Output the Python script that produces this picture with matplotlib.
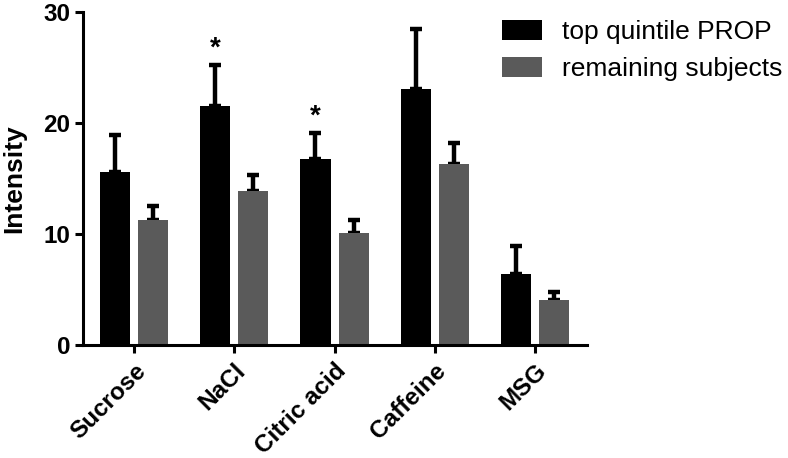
import matplotlib
matplotlib.use("Agg")
import matplotlib.pyplot as plt
import numpy as np

plt.rcParams['font.family'] = ['Liberation Sans', 'DejaVu Sans']

categories = ["Sucrose", "NaCl", "Citric acid", "Caffeine", "MSG"]
top_quintile = [15.6, 21.5, 16.7, 23.0, 6.4]
top_quintile_err = [3.3, 3.7, 2.4, 5.4, 2.5]
remaining = [11.25, 13.9, 10.05, 16.3, 4.05]
remaining_err = [1.25, 1.4, 1.2, 1.9, 0.75]
significant = [False, True, True, False, False]
yticks = [0, 10, 20, 30]

fig = plt.figure(figsize=(7.88, 4.58), dpi=100)
ax = fig.add_axes([0.1053, 0.2467, 0.6397, 0.7278])

x = np.arange(len(categories))
w = 0.30
off = 0.19
c1 = "#000000"
c2 = "#5a5a5a"

ax.bar(x - off, top_quintile, w, color=c1, label="top quintile PROP", zorder=2)
ax.bar(x + off, remaining, w, color=c2, label="remaining subjects", zorder=2)
ax.errorbar(x - off, top_quintile, yerr=[np.zeros(len(x)), top_quintile_err],
            fmt="none", ecolor=c1, elinewidth=3.2, capsize=4, capthick=3.2, zorder=1)
ax.errorbar(x + off, remaining, yerr=[np.zeros(len(x)), remaining_err],
            fmt="none", ecolor="#000000", elinewidth=3.2, capsize=4, capthick=3.2, zorder=1)

for i, s in enumerate(significant):
    if s:
        ax.text(x[i] - off, top_quintile[i] + top_quintile_err[i] + 0.3, "*",
                ha="center", va="bottom", fontsize=20, fontweight="bold")

ax.set_xlim(-0.51, 4.52)
ax.set_ylim(0, 30)
ax.set_yticks(yticks)
ax.set_xticks(x)
ax.set_xticklabels(categories, rotation=45, ha="right", rotation_mode="anchor",
                   fontsize=17.5, fontweight="bold")
for lab in ax.get_yticklabels():
    lab.set_fontsize(17.5)
    lab.set_fontweight("bold")
ax.set_ylabel("Intensity", fontsize=19, fontweight="bold")
ax.yaxis.set_label_coords(-0.113, 0.5)

for sp in ["top", "right"]:
    ax.spines[sp].set_visible(False)
for sp in ["left", "bottom"]:
    ax.spines[sp].set_linewidth(2.2)
ax.tick_params(axis="both", width=2.2, length=6, direction="out", pad=3)
ax.tick_params(axis="x", pad=4)

leg = ax.legend(loc="upper left", bbox_to_anchor=(502 / 788, 1 - 20 / 458),
                bbox_transform=fig.transFigure, frameon=False, borderpad=0,
                borderaxespad=0, fontsize=19, handlelength=1.5, handleheight=0.8,
                handletextpad=0.76, labelspacing=0.48)

fig.savefig("out.png", dpi=100)
